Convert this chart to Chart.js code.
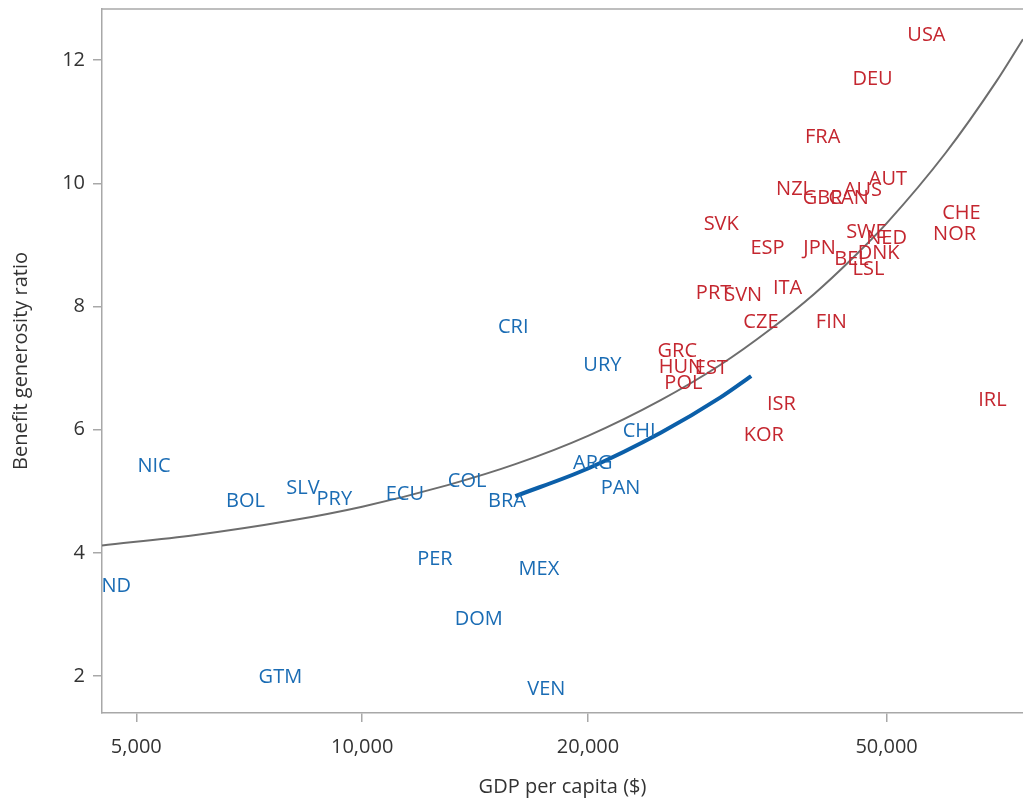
<!DOCTYPE html>
<html>
<head>
<meta charset="utf-8">
<title>Benefit generosity vs GDP per capita</title>
<script src="https://cdn.jsdelivr.net/npm/chart.js@4.4.1/dist/chart.umd.min.js"></script>
<style>
  html, body { margin: 0; padding: 0; background: #fff; }
  #wrap { width: 1023px; height: 799px; }
</style>
</head>
<body>
<div id="wrap"><canvas id="myChart" width="1023" height="799"></canvas></div>
<script>
// advanced economies (red labels)
const redCodes = ['USA', 'DEU', 'FRA', 'NZL', 'GBR', 'CAN', 'AUS', 'AUT', 'SVK', 'ESP', 'JPN', 'SWE', 'NED', 'DNK', 'BEL', 'LSL', 'CHE', 'NOR', 'PRT', 'SVN', 'ITA', 'CZE', 'FIN', 'GRC', 'HUN', 'EST', 'POL', 'ISR', 'KOR', 'IRL'];
const redGdp = [56500, 47900, 41100, 37700, 41100, 44500, 46500, 50200, 30100, 34700, 40700, 47000, 50000, 48800, 44900, 47300, 62900, 61600, 29400, 32200, 36900, 34000, 42200, 26300, 26600, 29200, 26800, 36200, 34300, 69200];
const redRatio = [12.41, 11.69, 10.75, 9.91, 9.76, 9.76, 9.89, 10.06, 9.33, 8.95, 8.95, 9.20, 9.10, 8.87, 8.76, 8.61, 9.52, 9.18, 8.22, 8.18, 8.30, 7.74, 7.74, 7.27, 7.02, 6.99, 6.76, 6.41, 5.91, 6.47];

// emerging economies (blue labels)
const blueCodes = ['CRI', 'URY', 'CHI', 'ARG', 'PAN', 'COL', 'ECU', 'BRA', 'SLV', 'PRY', 'BOL', 'NIC', 'PER', 'MEX', 'DOM', 'GTM', 'VEN', 'IND'];
const blueGdp = [15900, 20900, 23400, 20300, 22100, 13800, 11400, 15600, 8340, 9180, 6990, 5280, 12500, 17200, 14300, 7780, 17600, 4660];
const blueRatio = [7.67, 7.04, 5.97, 5.45, 5.05, 5.16, 4.95, 4.84, 5.05, 4.87, 4.84, 5.40, 3.90, 3.73, 2.92, 1.98, 1.79, 3.46];

// fitted curves
const fitGdp = [4500, 6000, 8000, 10000, 13000, 16000, 20000, 25000, 30000, 35000, 40000, 45000, 50000, 60000, 70000, 76000];
const fitRatio = [4.12, 4.29, 4.52, 4.75, 5.10, 5.44, 5.90, 6.48, 7.05, 7.63, 8.20, 8.78, 9.35, 10.50, 11.65, 12.34];
const emFitGdp = [16000, 20000, 25000, 30000, 33000];
const emFitRatio = [4.92, 5.37, 5.95, 6.52, 6.87];

const xTicks = [5000, 10000, 20000, 50000];
const yTicks = [2, 4, 6, 8, 10, 12];

const FONT = "'Open Sans', 'Noto Sans', sans-serif";
const RED = '#c4262f';
const BLUE = '#1a6cb4';
const AXIS = '#a8a8a8';

function toPoints(xs, ys) {
    return xs.map((x, i) => ({ x: x, y: ys[i] }));
}

// writes the country code at every point of the label datasets
const codeLabels = {
    id: 'codeLabels',
    afterDatasetsDraw(chart) {
        const ctx = chart.ctx;
        const area = chart.chartArea;
        ctx.save();
        ctx.beginPath();
        ctx.rect(area.left, area.top, area.right - area.left, area.bottom - area.top);
        ctx.clip();
        ctx.font = '20px ' + FONT;
        ctx.textAlign = 'center';
        ctx.textBaseline = 'middle';
        chart.data.datasets.forEach((ds, i) => {
            if (!ds.codes) return;
            const meta = chart.getDatasetMeta(i);
            ctx.fillStyle = ds.textColor;
            meta.data.forEach((pt, j) => {
                ctx.fillText(ds.codes[j], pt.x, pt.y);
            });
        });
        ctx.restore();
    }
};

// thin line closing the top of the plot box
const topBorder = {
    id: 'topBorder',
    afterDraw(chart) {
        const ctx = chart.ctx;
        const area = chart.chartArea;
        ctx.save();
        ctx.strokeStyle = AXIS;
        ctx.lineWidth = 1.5;
        ctx.beginPath();
        ctx.moveTo(area.left, area.top);
        ctx.lineTo(area.right, area.top);
        ctx.stroke();
        ctx.restore();
    }
};

const ctx = document.getElementById('myChart').getContext('2d');

let myChart = new Chart(ctx, {
    type: 'scatter',
    data: {
        datasets: [{
            label: 'Fit',
            data: toPoints(fitGdp, fitRatio),
            showLine: true,
            borderColor: '#6d6d6d',
            borderWidth: 2,
            pointRadius: 0,
            cubicInterpolationMode: 'monotone',
            fill: false
        }, {
            label: 'Emerging fit',
            data: toPoints(emFitGdp, emFitRatio),
            showLine: true,
            borderColor: '#0b5fa9',
            borderWidth: 4,
            pointRadius: 0,
            cubicInterpolationMode: 'monotone',
            fill: false
        }, {
            label: 'Advanced',
            data: toPoints(redGdp, redRatio),
            codes: redCodes,
            textColor: RED,
            pointRadius: 0
        }, {
            label: 'Emerging',
            data: toPoints(blueGdp, blueRatio),
            codes: blueCodes,
            textColor: BLUE,
            pointRadius: 0
        }]
    },
    options: {
        responsive: false,
        animation: false,
        devicePixelRatio: 1,
        layout: { padding: { top: 9, right: 0, bottom: 0, left: 0 } },
        plugins: {
            legend: { display: false },
            tooltip: { enabled: false }
        },
        scales: {
            x: {
                type: 'logarithmic',
                position: 'bottom',
                min: 4500,
                max: 76000,
                afterBuildTicks: (scale) => { scale.ticks = xTicks.map(v => ({ value: v })); },
                afterFit: (scale) => {
                    scale.height = 86;
                    scale.paddingLeft = 0;
                    scale.paddingRight = 0;
                },
                ticks: {
                    autoSkip: false,
                    maxRotation: 0,
                    padding: 13,
                    color: '#333',
                    font: { family: FONT, size: 20 },
                    callback: (v) => Number(v).toLocaleString('en-US')
                },
                grid: { drawOnChartArea: false, drawTicks: true, tickLength: 9, color: AXIS, lineWidth: 1.5 },
                border: { display: true, color: AXIS, width: 1.5 },
                title: {
                    display: true,
                    text: 'GDP per capita ($)',
                    color: '#333',
                    font: { family: FONT, size: 20 },
                    padding: { top: 0, bottom: 0 }
                }
            },
            y: {
                type: 'linear',
                min: 1.4,
                max: 12.83,
                afterBuildTicks: (scale) => { scale.ticks = yTicks.map(v => ({ value: v })); },
                afterFit: (scale) => {
                    scale.width = 102;
                    scale.paddingTop = 0;
                    scale.paddingBottom = 0;
                },
                ticks: {
                    padding: 8,
                    color: '#333',
                    font: { family: FONT, size: 20 }
                },
                grid: { drawOnChartArea: false, drawTicks: true, tickLength: 9, color: AXIS, lineWidth: 1.5 },
                border: { display: true, color: AXIS, width: 1.5 },
                title: {
                    display: true,
                    text: 'Benefit generosity ratio',
                    color: '#333',
                    font: { family: FONT, size: 20 },
                    padding: { top: 9, bottom: 0 }
                }
            }
        }
    },
    plugins: [codeLabels, topBorder]
});
</script>
</body>
</html>
